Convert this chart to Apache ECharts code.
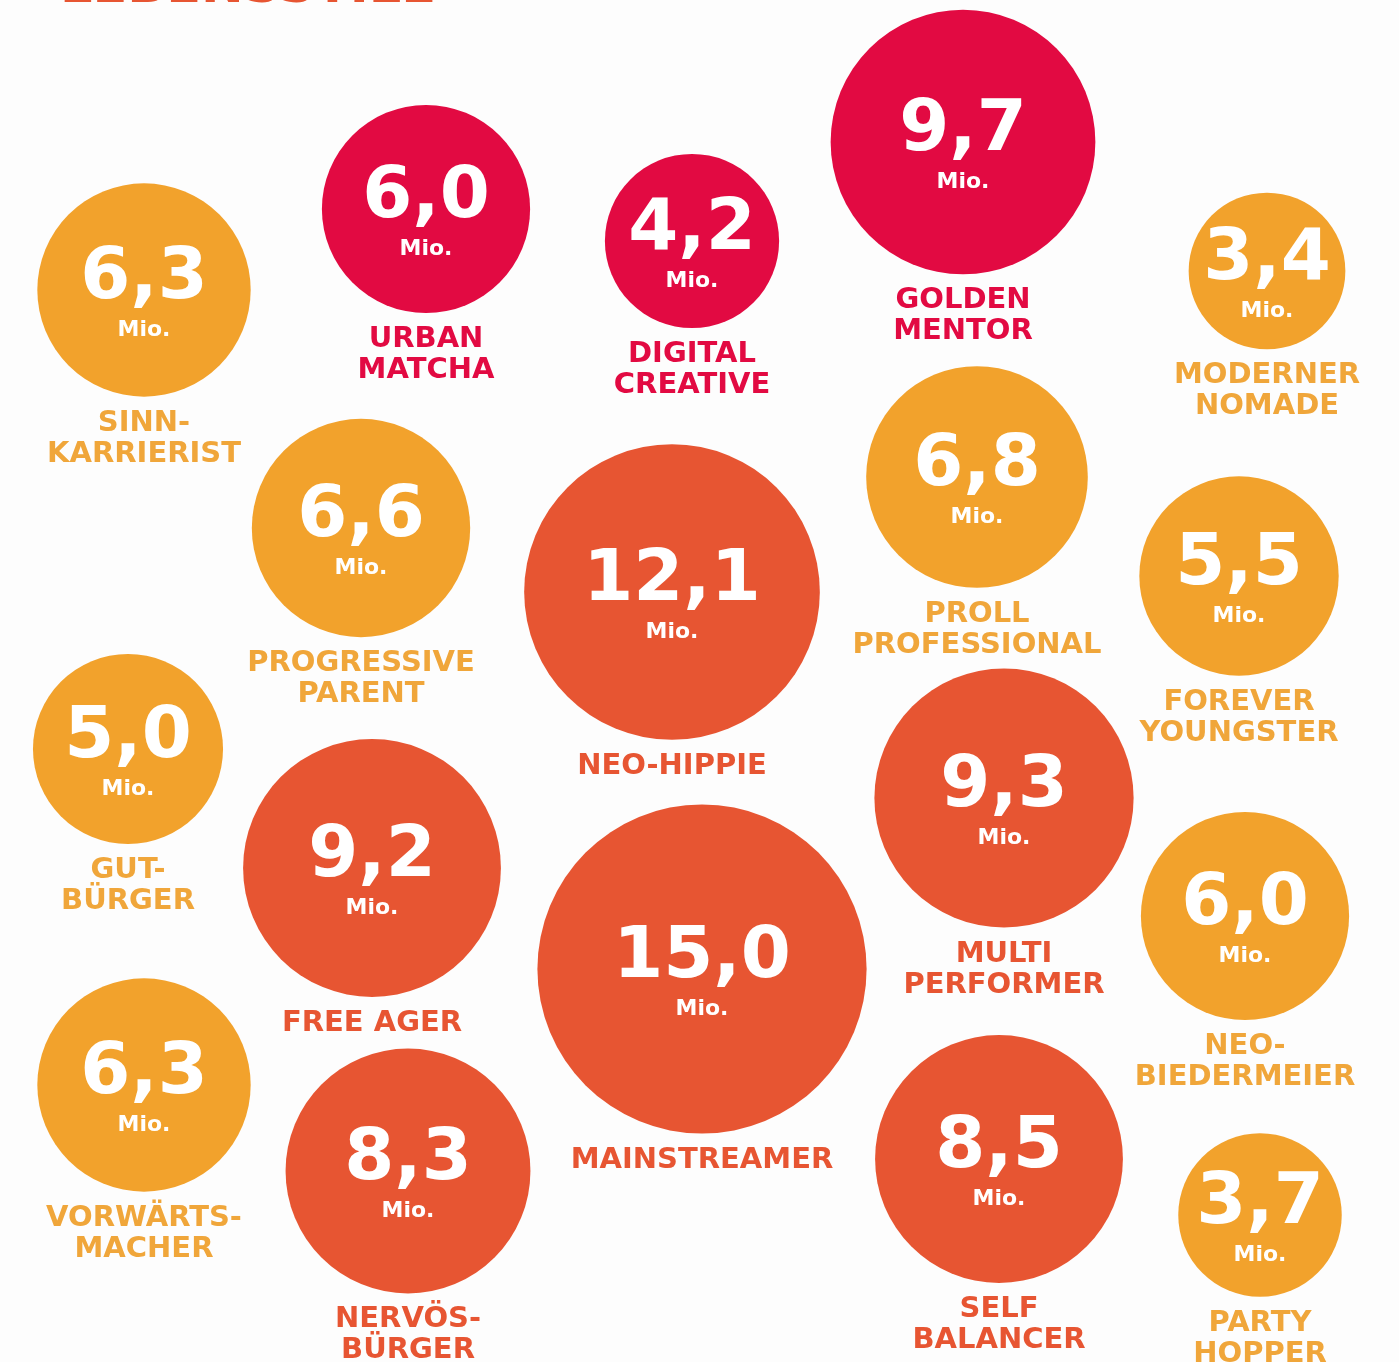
<!DOCTYPE html>
<html>
<head>
<meta charset="utf-8">
<script src="https://cdn.jsdelivr.net/npm/echarts@6/dist/echarts.min.js"></script>
<style>
  html, body { margin: 0; padding: 0; background: #fdfdfd; }
  #main { width: 1399px; height: 1362px; }
</style>
</head>
<body>
<div id="main"></div>
<script>
// Lebensstile: Anzahl Personen in Mio.
const names = ['SINN-\nKARRIERIST', 'URBAN\nMATCHA', 'DIGITAL\nCREATIVE', 'GOLDEN\nMENTOR', 'MODERNER\nNOMADE',
  'PROGRESSIVE\nPARENT', 'NEO-HIPPIE', 'PROLL\nPROFESSIONAL', 'FOREVER\nYOUNGSTER', 'GUT-\nBÜRGER',
  'FREE AGER', 'MAINSTREAMER', 'MULTI\nPERFORMER', 'NEO-\nBIEDERMEIER', 'VORWÄRTS-\nMACHER',
  'NERVÖS-\nBÜRGER', 'SELF\nBALANCER', 'PARTY\nHOPPER'];
const values = [6.3, 6.0, 4.2, 9.7, 3.4, 6.6, 12.1, 6.8, 5.5, 5.0, 9.2, 15.0, 9.3, 6.0, 6.3, 8.3, 8.5, 3.7];
const groups = ['a', 'c', 'c', 'c', 'a', 'a', 'r', 'a', 'a', 'a', 'r', 'r', 'r', 'a', 'a', 'r', 'r', 'a'];
// bubble placement in the layout plane
const layoutX = [144, 426, 692, 963, 1267, 361, 672, 977, 1239, 128, 372, 702, 1004, 1245, 144, 408, 999, 1260];
const layoutY = [290, 209, 241, 142, 271, 528, 592, 477, 576, 749, 868, 969, 798, 916, 1085, 1171, 1159, 1215];

const colors = { a: '#f2a22c', c: '#e20a42', r: '#e75532' };
const labelColors = { a: '#f0a63a', c: '#e20a42', r: '#e75532' };
const font = '"DejaVu Sans", sans-serif';

const chart = echarts.init(document.getElementById('main'), null, { renderer: 'canvas' });

const data = values.map((v, i) => ({
  name: names[i],
  value: [layoutX[i], layoutY[i], v],
  group: groups[i]
}));

const sizeOf = val => Math.sqrt(val[2]) * 85;

const option = {
  backgroundColor: '#fdfdfd',
  animation: false,
  grid: { left: 0, right: 0, top: 0, bottom: 0 },
  xAxis: { type: 'value', min: 0, max: 1399, show: false },
  yAxis: { type: 'value', min: 0, max: 1362, inverse: true, show: false },
  graphic: [{
    type: 'text',
    left: 60,
    top: -37,
    style: {
      text: 'LEBENSSTILE',
      font: 'bold 51px ' + font,
      fill: '#e75532'
    }
  }],
  series: [
    {
      // circles with numbers
      type: 'scatter',
      symbol: 'circle',
      symbolSize: sizeOf,
      data: data.map(d => ({ value: d.value, itemStyle: { color: colors[d.group] } })),
      itemStyle: { opacity: 1 },
      emphasis: { disabled: true },
      label: {
        show: true,
        position: 'inside',
        formatter: p => '{n|' + p.value[2].toFixed(1).replace('.', ',') + '}\n{m|Mio.}',
        rich: {
          n: { fontFamily: font, fontWeight: 'bold', fontSize: 72, lineHeight: 80, color: '#fff' },
          m: { fontFamily: font, fontWeight: 'bold', fontSize: 22, lineHeight: 22, color: '#fff' }
        }
      }
    },
    {
      // names below circles
      type: 'scatter',
      symbol: 'circle',
      symbolSize: sizeOf,
      data: data.map(d => ({
        name: d.name,
        value: d.value,
        label: { color: labelColors[d.group] }
      })),
      itemStyle: { color: 'rgba(0,0,0,0)', opacity: 1 },
      emphasis: { disabled: true },
      z: 3,
      label: {
        show: true,
        position: 'bottom',
        distance: 11,
        formatter: p => p.name,
        fontFamily: font,
        fontWeight: 'bold',
        fontSize: 29,
        lineHeight: 31,
        align: 'center'
      }
    }
  ]
};

chart.setOption(option);
</script>
</body>
</html>
